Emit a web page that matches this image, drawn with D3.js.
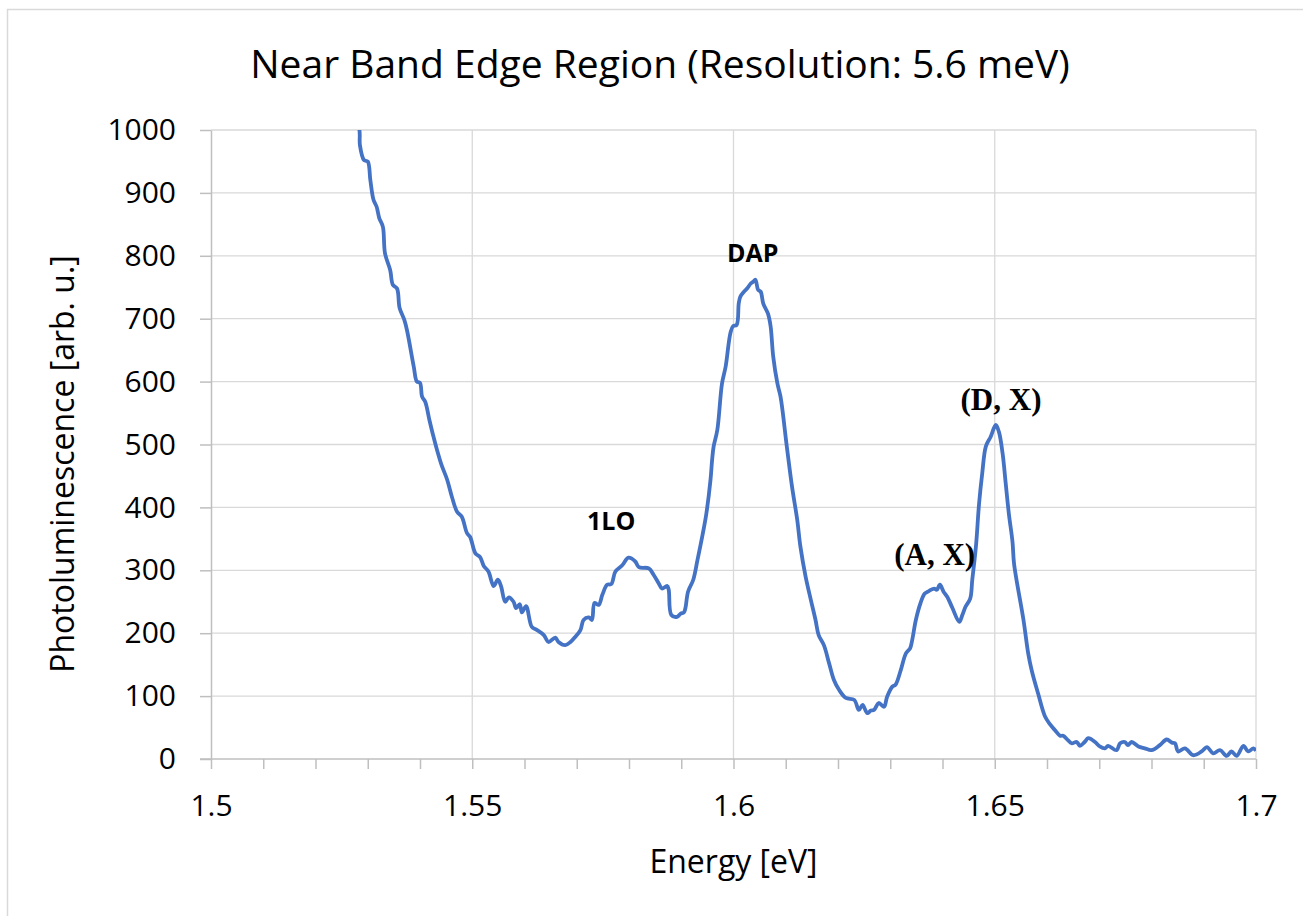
<!DOCTYPE html>
<html>
<head>
<meta charset="utf-8">
<script src="https://cdn.jsdelivr.net/npm/d3@7"></script>
<style>
  body { margin: 0; background: #fff; }
  svg { display: block; }
  .grid line { stroke: #d9d9d9; stroke-width: 1.3; }
  .axis path, .axis line { stroke: #bfbfbf; stroke-width: 1.5; }
  .axis text { font-family: 'Open Sans', sans-serif; font-size: 30px; fill: #000; }
  .line { fill: none; stroke: #4472c4; stroke-width: 3.8; stroke-linejoin: round; }
</style>
</head>
<body>
<script>
// size of the page
var w = 1303;
var h = 916;
var margin = {left: 211, right: 47, top: 130, bottom: 157};

// photoluminescence spectrum
var energy = [
  1.5275, 1.5284, 1.5285, 1.5293, 1.5300, 1.5305, 1.5311, 1.5317, 1.5322, 1.5329, 1.5333,
  1.5343, 1.5348, 1.5356, 1.5361, 1.5370, 1.5375, 1.5388, 1.5394, 1.5400, 1.5404, 1.5410,
  1.5418, 1.5425, 1.5433, 1.5441, 1.5452, 1.5461, 1.5471, 1.5480, 1.5490, 1.5496, 1.5506,
  1.5515, 1.5522, 1.5531, 1.5541, 1.5549, 1.5555, 1.5563, 1.5570, 1.5579, 1.5584, 1.5591,
  1.5595, 1.5603, 1.5614, 1.5624, 1.5637, 1.5646, 1.5659, 1.5665, 1.5678, 1.5688, 1.5697,
  1.5707, 1.5713, 1.5723, 1.5729, 1.5734, 1.5742, 1.5749, 1.5758, 1.5766, 1.5774, 1.5787,
  1.5799, 1.5812, 1.5819, 1.5838, 1.5847, 1.5857, 1.5863, 1.5873, 1.5876, 1.5881, 1.5892,
  1.5899, 1.5905, 1.5908, 1.5913, 1.5923, 1.5931, 1.5940, 1.5948, 1.5956, 1.5959, 1.5962,
  1.5969, 1.5978, 1.5985, 1.5994, 1.5999, 1.6006, 1.6010, 1.6013, 1.6020, 1.6026, 1.6033,
  1.6038, 1.6042, 1.6047, 1.6052, 1.6057, 1.6066, 1.6071, 1.6076, 1.6084, 1.6090, 1.6102,
  1.6112, 1.6122, 1.6128, 1.6138, 1.6148, 1.6157, 1.6163, 1.6173, 1.6183, 1.6192, 1.6202,
  1.6215, 1.6231, 1.6240, 1.6247, 1.6256, 1.6263, 1.6269, 1.6278, 1.6288, 1.6294, 1.6304,
  1.6310, 1.6320, 1.6330, 1.6338, 1.6342, 1.6349, 1.6358, 1.6366, 1.6374, 1.6384, 1.6389,
  1.6395, 1.6402, 1.6409, 1.6419, 1.6432, 1.6438, 1.6444, 1.6453, 1.6457, 1.6464, 1.6470,
  1.6476, 1.6483, 1.6492, 1.6502, 1.6508, 1.6515, 1.6521, 1.6527, 1.6534, 1.6537, 1.6555,
  1.6564, 1.6571, 1.6583, 1.6596, 1.6606, 1.6615, 1.6625, 1.6631, 1.6640, 1.6647, 1.6657,
  1.6663, 1.6672, 1.6679, 1.6692, 1.6701, 1.6711, 1.6717, 1.6733, 1.6740, 1.6749, 1.6755,
  1.6762, 1.6775, 1.6787, 1.6800, 1.6816, 1.6829, 1.6839, 1.6845, 1.6851, 1.6864, 1.6880,
  1.6896, 1.6906, 1.6918, 1.6931, 1.6944, 1.6953, 1.6963, 1.6976, 1.6985, 1.6995, 1.7000
];
var intensity = [
  1020, 1000, 976, 952, 950, 920, 889, 878, 860, 846, 804,
  777, 754, 748, 717, 698, 682, 624, 600, 598, 576, 568,
  539, 515, 490, 468, 444, 417, 393, 385, 359, 353, 327,
  321, 307, 298, 275, 285, 275, 250, 257, 250, 240, 246,
  233, 243, 210, 205, 197, 186, 193, 186, 181, 186, 194,
  205, 221, 225, 221, 248, 245, 261, 277, 278, 298, 308,
  320, 314, 305, 303, 293, 279, 271, 275, 269, 229, 226,
  231, 233, 240, 266, 285, 316, 353, 390, 444, 475, 497,
  523, 597, 624, 677, 688, 690, 724, 735, 743, 748, 756,
  759, 762, 746, 743, 724, 708, 688, 640, 597, 576, 497,
  433, 380, 338, 290, 253, 221, 197, 181, 152, 126, 110,
  97, 94, 78, 86, 73, 77, 78, 89, 83, 99, 115,
  118, 141, 168, 176, 189, 221, 248, 263, 267, 271, 269,
  277, 266, 258, 240, 218, 229, 242, 255, 285, 338, 406,
  454, 497, 512, 531, 520, 486, 438, 390, 345, 310, 221,
  168, 140, 104, 68, 55, 46, 37, 37, 30, 25, 27,
  21, 27, 33, 27, 20, 17, 21, 14, 25, 27, 22,
  27, 20, 17, 14, 22, 31, 26, 25, 12, 17, 6,
  12, 19, 9, 14, 5, 12, 5, 21, 12, 17, 13
];

// peak labels
var peakNames = ["1LO", "DAP", "(A, X)", "(D, X)"];
var peakE = [1.5766, 1.6037, 1.6385, 1.6512];
var peakI = [364, 790, 308, 555];
var peakSerif = [false, false, true, true];

var xTicks = [1.5, 1.55, 1.6, 1.65, 1.7];
var xMinor = d3.range(0, 21).map(function(i) { return 1.5 + i * 0.01; });
var yTicks = d3.range(0, 1001, 100);

var dataset = energy.map(function(e, i) { return {e: e, v: intensity[i]}; });

var xScale = d3.scaleLinear().domain([1.5, 1.7]).range([margin.left, w - margin.right]);
var yScale = d3.scaleLinear().domain([0, 1000]).range([h - margin.bottom, margin.top]);

var svg = d3.select("body").append("svg")
            .attr("width", w)
            .attr("height", h);

// chart border
svg.append("rect")
   .attr("x", 7.5).attr("y", 9.5)
   .attr("width", 1400).attr("height", 1000)
   .attr("fill", "none")
   .attr("stroke", "#d9d9d9")
   .attr("stroke-width", 1.5);

// gridlines
svg.append("g").attr("class", "grid")
   .selectAll("line").data(yTicks.slice(1)).enter().append("line")
   .attr("x1", margin.left).attr("x2", w - margin.right)
   .attr("y1", function(d) { return yScale(d); })
   .attr("y2", function(d) { return yScale(d); });

svg.append("g").attr("class", "grid")
   .selectAll("line").data(xTicks.slice(1)).enter().append("line")
   .attr("x1", function(d) { return xScale(d); })
   .attr("x2", function(d) { return xScale(d); })
   .attr("y1", margin.top).attr("y2", h - margin.bottom);

// x axis with minor ticks
svg.append("g")
   .attr("class", "axis")
   .attr("transform", "translate(0," + (h - margin.bottom) + ")")
   .call(d3.axisBottom(xScale).tickValues(xMinor).tickSize(10).tickFormat(""))
   .call(function(g) { g.select(".domain").attr("d", "M" + (margin.left - 11) + ",0H" + (w - margin.right)); });

svg.append("g")
   .attr("class", "axis")
   .attr("transform", "translate(0," + (h - margin.bottom) + ")")
   .call(d3.axisBottom(xScale).tickValues(xTicks).tickSize(0).tickPadding(36).tickFormat(d3.format("")))
   .call(function(g) { g.select(".domain").remove(); });

// y axis with outside ticks
svg.append("g")
   .attr("class", "axis")
   .attr("transform", "translate(" + margin.left + ",0)")
   .call(d3.axisLeft(yScale).tickValues(yTicks).tickSize(11).tickSizeOuter(0).tickPadding(24).tickFormat(d3.format("d")));

// spectrum
svg.append("clipPath").attr("id", "plot")
   .append("rect")
   .attr("x", margin.left).attr("y", margin.top)
   .attr("width", w - margin.left - margin.right)
   .attr("height", h - margin.top - margin.bottom);

var line = d3.line()
             .curve(d3.curveCatmullRom.alpha(0.5))
             .x(function(d) { return xScale(d.e); })
             .y(function(d) { return yScale(d.v); });

svg.append("path")
   .datum(dataset)
   .attr("class", "line")
   .attr("clip-path", "url(#plot)")
   .attr("d", line);

// peak labels
svg.append("g").selectAll("text")
   .data(peakNames).enter().append("text")
   .attr("x", function(d, i) { return xScale(peakE[i]); })
   .attr("y", function(d, i) { return yScale(peakI[i]); })
   .attr("text-anchor", "middle")
   .attr("font-weight", "bold")
   .attr("font-family", function(d, i) { return peakSerif[i] ? "'Liberation Serif', serif" : "'Open Sans', sans-serif"; })
   .attr("font-size", function(d, i) { return peakSerif[i] ? 31 : 25; })
   .text(function(d) { return d; });

// titles
svg.append("text")
   .attr("x", 660).attr("y", 78)
   .attr("text-anchor", "middle")
   .attr("font-family", "'Open Sans', sans-serif")
   .attr("font-size", 39)
   .text("Near Band Edge Region (Resolution: 5.6 meV)");

svg.append("text")
   .attr("x", (margin.left + w - margin.right) / 2).attr("y", 873)
   .attr("text-anchor", "middle")
   .attr("font-family", "'Open Sans', sans-serif")
   .attr("font-size", 32)
   .text("Energy [eV]");

svg.append("text")
   .attr("transform", "translate(74,464) rotate(-90)")
   .attr("text-anchor", "middle")
   .attr("font-family", "'Open Sans', sans-serif")
   .attr("font-size", 32)
   .text("Photoluminescence [arb. u.]");
</script>
</body>
</html>
